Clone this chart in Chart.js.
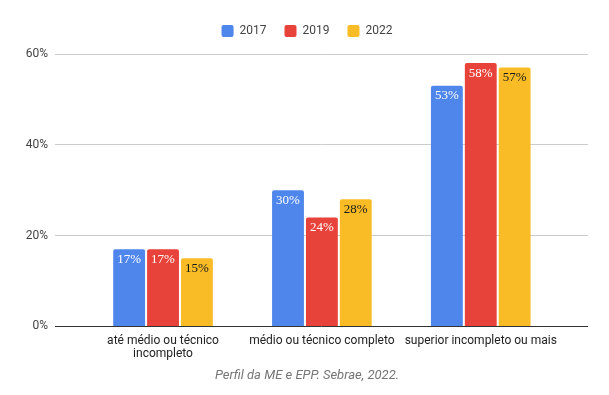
<!DOCTYPE html>
<html>
<head>
<meta charset="utf-8">
<script src="https://cdn.jsdelivr.net/npm/chart.js@4"></script>
<style>
  html, body { margin: 0; padding: 0; background: #fff; }
  #wrap { width: 609px; height: 395px; }
</style>
</head>
<body>
<div id="wrap"><canvas id="c" width="609" height="395"></canvas></div>
<script>
const categories = ['até médio ou técnico incompleto', 'médio ou técnico completo', 'superior incompleto ou mais'];
const tickLabels = [['até médio ou técnico', 'incompleto'], ['médio ou técnico completo'], ['superior incompleto ou mais']];
const seriesNames = ['2017', '2019', '2022'];
const values2017 = [17, 30, 53];
const values2019 = [17, 24, 58];
const values2022 = [15, 28, 57];
const yTicks = [0, 20, 40, 60];
const caption = 'Perfil da ME e EPP. Sebrae, 2022.';

const colors = ['#4e86ec', '#e8433a', '#f9bc27'];
const labelColors = ['#ffffff', '#ffffff', '#1a1a1a'];
const allSeries = [values2017, values2019, values2022];

const datasets = allSeries.map((vals, s) => ({
  label: seriesNames[s],
  data: vals.map((v, i) => ({ x: i, y: v })),
  backgroundColor: colors[s],
  borderWidth: 0,
  borderRadius: { topLeft: 2, topRight: 2, bottomLeft: 0, bottomRight: 0 },
  borderSkipped: 'start',
  categoryPercentage: 0.64,
  barPercentage: 0.94
}));

const barLabels = {
  id: 'barLabels',
  afterDatasetsDraw(chart) {
    const ctx = chart.ctx;
    ctx.save();
    ctx.font = '13px "Liberation Serif", "Times New Roman", serif';
    ctx.textAlign = 'center';
    ctx.textBaseline = 'middle';
    chart.data.datasets.forEach((ds, s) => {
      const meta = chart.getDatasetMeta(s);
      meta.data.forEach((bar, i) => {
        ctx.fillStyle = labelColors[s];
        ctx.fillText(allSeries[s][i] + '%', bar.x, bar.y + 10);
      });
    });
    ctx.restore();
  }
};

// Keep a little extra room under the legend and centre the legend and caption on the canvas
const boxTweaks = {
  id: 'boxTweaks',
  beforeLayout(chart) {
    const lg = chart.legend;
    if (lg && !lg._gapPatched) {
      const orig = lg.fit;
      lg.fit = function () { orig.call(this); this.height += 7; };
      lg._gapPatched = true;
    }
  },
  afterLayout(chart) {
    [chart.legend, chart.titleBlock].forEach(b => {
      if (!b) return;
      b.left += 5;
      b.right += 21;
      b.width = b.right - b.left;
    });
  }
};

new Chart(document.getElementById('c'), {
  type: 'bar',
  data: { datasets },
  plugins: [barLabels, boxTweaks],
  options: {
    responsive: false,
    animation: false,
    devicePixelRatio: 1,
    layout: { padding: { left: 0, right: 21, top: 7, bottom: 11 } },
    plugins: {
      legend: {
        position: 'top',
        align: 'center',
        labels: {
          boxWidth: 12,
          boxHeight: 12,
          useBorderRadius: true,
          borderRadius: 2,
          padding: 18,
          color: '#444',
          font: { family: 'Roboto', size: 12 }
        }
      },
      title: {
        display: true,
        position: 'bottom',
        text: caption,
        color: '#757575',
        padding: { top: 0, bottom: 0 },
        font: { family: 'Roboto', size: 13, style: 'italic', weight: 'normal', lineHeight: 1.2 }
      },
      tooltip: { enabled: false }
    },
    scales: {
      x: {
        type: 'linear',
        offset: false,
        bounds: 'data',
        min: -0.68,
        max: 2.675,
        grid: { display: false, drawTicks: false, offset: false },
        border: { display: false },
        afterBuildTicks(scale) { scale.ticks = categories.map((_, i) => ({ value: i })); },
        afterFit(scale) { scale.height = 42; },
        ticks: {
          autoSkip: false,
          maxRotation: 0,
          minRotation: 0,
          padding: 8,
          color: '#222',
          font: { family: 'Roboto', size: 12, lineHeight: 1.1 },
          callback: (v) => tickLabels[v]
        }
      },
      y: {
        min: 0,
        max: 60,
        afterBuildTicks(scale) { scale.ticks = yTicks.map(v => ({ value: v })); },
        afterFit(scale) { scale.width = 55; },
        grid: {
          drawTicks: false,
          color: (c) => (c.tick && c.tick.value === 0 ? '#333333' : '#cccccc'),
          lineWidth: 1
        },
        border: { display: false },
        ticks: {
          padding: 7,
          color: '#444',
          font: { family: 'Roboto', size: 12 },
          callback: (v) => v + '%'
        }
      }
    }
  }
});
</script>
</body>
</html>
